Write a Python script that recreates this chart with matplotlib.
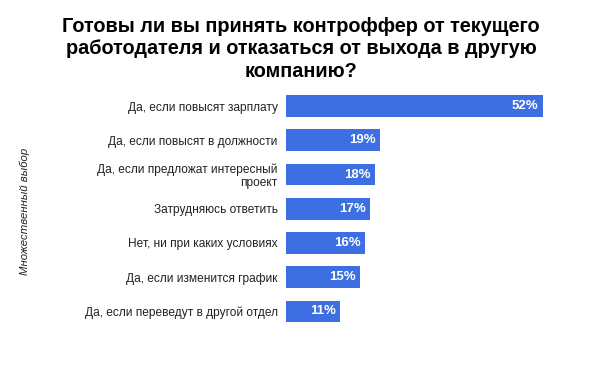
import matplotlib.pyplot as plt

plt.rcParams['font.family'] = ['Liberation Sans', 'DejaVu Sans']

# Answer options and share of respondents (%)
answers = [
    "Да, если повысят зарплату",
    "Да, если повысят в должности",
    "Да, если предложат интересный\nпроект",
    "Затрудняюсь ответить",
    "Нет, ни при каких условиях",
    "Да, если изменится график",
    "Да, если переведут в другой отдел",
]
shares = [52, 19, 18, 17, 16, 15, 11]

title = ("Готовы ли вы принять контроффер от текущего\n"
         "работодателя и отказаться от выхода в другую\n"
         "компанию?")

fig = plt.figure(figsize=(6.02, 3.72), dpi=100)
ax = fig.add_axes([286 / 602, 1 - 328.6 / 372, 257 / 602, (328.6 - 88.9) / 372])

pos = range(len(answers))
ax.barh(pos, shares, height=0.64, color="#3d6fe2")
ax.set_xlim(0, 52)
ax.set_ylim(len(answers) - 0.5, -0.5)

# value labels inside the bar ends
for y, v in zip(pos, shares):
    ax.text(v - 0.9, y, f"{v}%", ha="right", va="center",
            color="white", fontsize=9.5, fontweight="bold")

ax.set_yticks(list(pos))
ax.set_yticklabels(answers, fontsize=8.6, color="#222222", ma="right",
                   linespacing=1.1)
ax.tick_params(axis="y", length=0, pad=6)
ax.set_xticks([])
for s in ax.spines.values():
    s.set_visible(False)

fig.text(0.5, 1 - 16.5 / 372, title, ha="center", va="top",
         fontsize=14.3, fontweight="bold", linespacing=1.26)
fig.text(25 / 602, 1 - 211 / 372, "Множественный выбор", rotation=90,
         ha="center", va="center", fontsize=8.2, style="italic", color="#222222")

fig.savefig("out.png", dpi=100)
